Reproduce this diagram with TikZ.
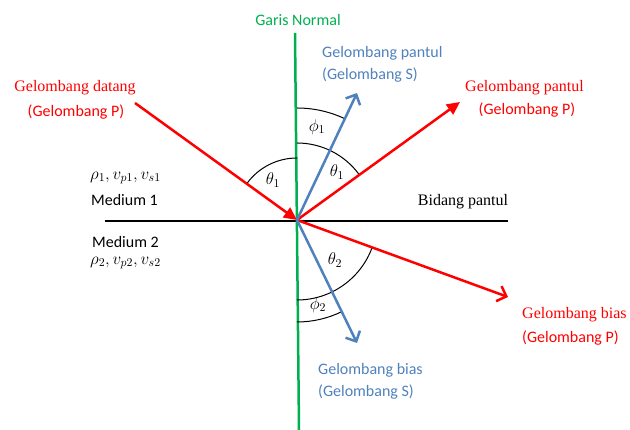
\RequirePackage{fix-cm}
\documentclass[tikz,border=0pt]{standalone}
\usepackage{fontspec}
\setmainfont{Liberation Serif}
\newfontfamily\timesfont{Liberation Serif}
\newfontfamily\calibfont{Carlito}
\usetikzlibrary{arrows.meta}
\definecolor{normgreen}{HTML}{00B050}
\definecolor{sblue}{HTML}{4F81BD}

\begin{document}
\begin{tikzpicture}[x=1pt,y=1pt,
    pwave/.style={red,line width=2.5pt,-{Triangle[length=13pt,width=12pt]}},
    pbias/.style={red,line width=2.5pt,-{Straight Barb[length=8pt,width=16pt]}},
    swave/.style={sblue,line width=2.5pt,-{Straight Barb[length=8pt,width=16pt]}},
    anglearc/.style={black,line width=1pt},
    sanslbl/.style={inner sep=0pt,font=\calibfont\fontsize{16}{19}\selectfont},
    seriflbl/.style={inner sep=0pt,font=\timesfont\fontsize{16}{19}\selectfont},
    mathlbl/.style={inner sep=0pt,font=\fontsize{17}{20}\selectfont}]
        \useasboundingbox (0,0) rectangle (630,430);
        % Points
        \coordinate (O) at (297,210);
        \coordinate (N1) at (295,397);
        \coordinate (N2) at (299,0);
        \coordinate (S1) at (105,209);
        \coordinate (S2) at (508,209);
        \coordinate (I) at (135,327);
        \coordinate (RP) at (460,328);
        \coordinate (RS) at (357,337);
        \coordinate (TP) at (508,133);
        \coordinate (TS) at (357,87);
        % Normal line and surface
        \draw[black,line width=2pt] (S1) -- (S2);
        \draw[normgreen,line width=2.5pt] (N1) -- (N2);
        % Angles
        \draw[anglearc] (O) ++(90:62) arc[start angle=90,end angle=144,radius=62];
        \draw[anglearc] (O) ++(90:112) arc[start angle=90,end angle=65,radius=112];
        \draw[anglearc] (O) ++(90:77) arc[start angle=90,end angle=36,radius=77];
        \draw[anglearc] (O) ++(-20:80) arc[start angle=-20,end angle=-90,radius=80];
        \draw[anglearc] (O) ++(-90:102) arc[start angle=-90,end angle=-64,radius=102];
        \node[mathlbl] (t1a) at (273,250) {$\theta_1$};
        \node[mathlbl] (f1) at (317,303) {$\phi_1$};
        \node[mathlbl] (t1b) at (337,258) {$\theta_1$};
        \node[mathlbl] (t2) at (335,170) {$\theta_2$};
        \node[mathlbl] (f2) at (318,125) {$\phi_2$};
        % Waves
        \draw[pwave] (I) -- (O);
        \draw[pwave] (O) -- (RP);
        \draw[pbias] (O) -- (TP);
        \draw[swave] (O) -- (RS);
        \draw[swave] (O) -- (TS);
        % Labels
        \node[sanslbl,text=normgreen] (normal) at (298,410) {Garis Normal};
        \node[sanslbl,text=sblue,anchor=west] (spantul) at (322,377) {Gelombang pantul};
        \node[sanslbl,text=sblue,anchor=west] (spantul2) at (322,355) {(Gelombang S)};
        \node[seriflbl,text=red,anchor=west] (ppantul) at (465,342) {Gelombang pantul};
        \node[sanslbl,text=red] (ppantul2) at (527,320) {(Gelombang P)};
        \node[seriflbl,text=red] (datang) at (75,342) {Gelombang datang};
        \node[sanslbl,text=red] (datang2) at (76,318) {(Gelombang P)};
        \node[mathlbl,anchor=west] (par1) at (90,252) {$\rho_1, v_{p1}, v_{s1}$};
        \node[sanslbl,anchor=west] (med1) at (91,230) {Medium 1};
        \node[sanslbl,anchor=west] (med2) at (92,188) {Medium 2};
        \node[mathlbl,anchor=west] (par2) at (90,167) {$\rho_2, v_{p2}, v_{s2}$};
        \node[seriflbl] (bidang) at (463,228) {Bidang pantul};
        \node[seriflbl,text=red,anchor=west] (pbias) at (522,115) {Gelombang bias};
        \node[sanslbl,text=red,anchor=west] (pbias2) at (522,92) {(Gelombang P)};
        \node[sanslbl,text=sblue,anchor=west] (sbias) at (318,60) {Gelombang bias};
        \node[sanslbl,text=sblue,anchor=west] (sbias2) at (318,38) {(Gelombang S)};
\end{tikzpicture}
\end{document}
